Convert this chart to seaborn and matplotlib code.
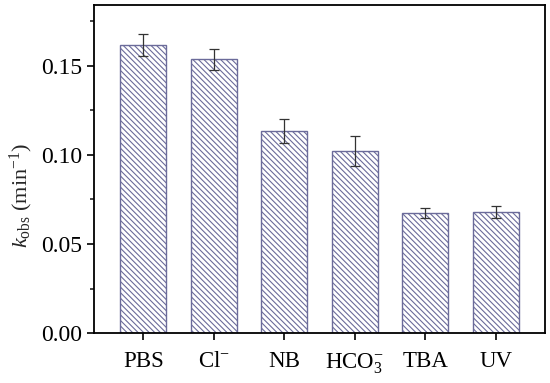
import matplotlib
matplotlib.use("Agg")
import matplotlib.pyplot as plt
import seaborn as sns
import pandas as pd
from matplotlib.ticker import MultipleLocator, FormatStrFormatter

categories = ["PBS", "Cl$^{-}$", "NB", "HCO$_3^{-}$", "TBA", "UV"]
kobs = [0.1615, 0.1535, 0.1135, 0.1020, 0.0675, 0.0678]
errors = [0.0060, 0.0058, 0.0068, 0.0085, 0.0028, 0.0034]

sns.set_theme(style="ticks")
plt.rcParams["font.family"] = ["Liberation Serif", "DejaVu Serif"]
plt.rcParams["mathtext.fontset"] = "custom"
plt.rcParams["mathtext.rm"] = "Liberation Serif"
plt.rcParams["mathtext.it"] = "Liberation Serif:italic"
plt.rcParams["hatch.color"] = "#2a2a7a"
plt.rcParams["hatch.linewidth"] = 0.8

df = pd.DataFrame({"cat": categories, "k": kobs})

fig = plt.figure(figsize=(5.5, 3.83), dpi=100)
ax = fig.add_axes([0.171, 0.13, 0.82, 0.857])

sns.barplot(data=df, x="cat", y="k", ax=ax, color="white", width=0.65,
            edgecolor="#6b6b9a", linewidth=1.0, errorbar=None)
for p in ax.patches:
    p.set_hatch("\\\\\\\\\\\\")
    p.set_facecolor("white")

ax.errorbar(range(len(categories)), kobs, yerr=errors, fmt="none",
            ecolor="#333333", elinewidth=0.9, capsize=3.5, capthick=0.9)

ax.set_xlim(-0.7, 5.7)
ax.set_ylim(0, 0.184)
ax.yaxis.set_major_locator(MultipleLocator(0.05))
ax.yaxis.set_minor_locator(MultipleLocator(0.025))
ax.yaxis.set_major_formatter(FormatStrFormatter("%.2f"))

ax.set_xlabel("")
ax.set_ylabel(r"$k_{\mathrm{obs}}$ (min$^{-1}$)", fontsize=16)
ax.yaxis.set_label_coords(-0.13, 0.42)
ax.tick_params(axis="y", which="major", labelsize=17, direction="out",
               length=5, width=1.2, color="black", labelcolor="black")
ax.tick_params(axis="x", which="major", labelsize=16.5, direction="out",
               length=5, width=1.2, color="black", labelcolor="black", pad=8)
ax.tick_params(axis="y", which="minor", direction="out", length=3, width=1.2)
for s in ax.spines.values():
    s.set_visible(True)
    s.set_color("black")
    s.set_linewidth(1.3)

fig.savefig("out.png", dpi=100)
